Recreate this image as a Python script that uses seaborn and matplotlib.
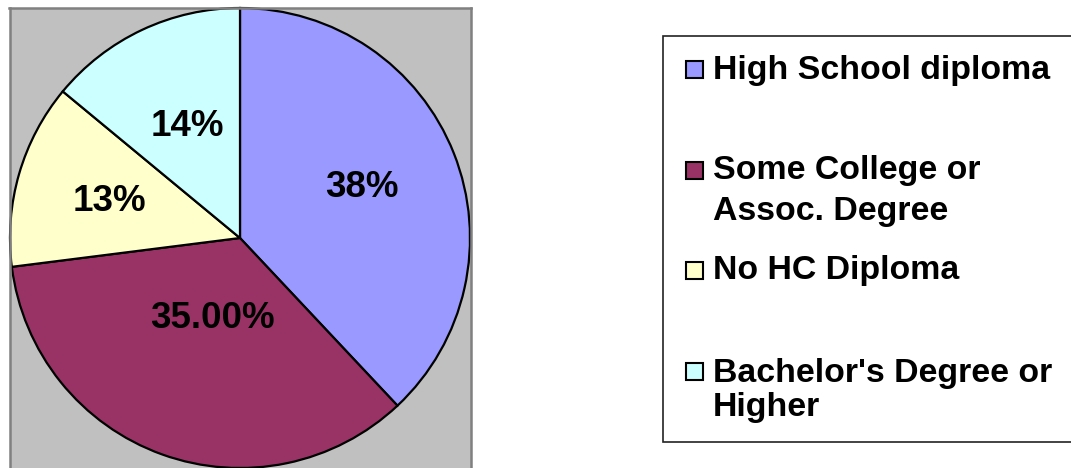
import matplotlib
matplotlib.use("Agg")
import matplotlib.pyplot as plt
from matplotlib.patches import Rectangle
import numpy as np
import seaborn as sns

# Education level breakdown
categories = ["High School diploma", "Some College or\nAssoc. Degree",
              "No HC Diploma", "Bachelor's Degree or\nHigher"]
shares = [38, 35, 13, 14]
label_formats = ["{:.0f}%", "{:.2f}%", "{:.0f}%", "{:.0f}%"]
colors = ["#9999FF", "#993366", "#FFFFCC", "#CCFFFF"]

sns.set_style("white")
plt.rcParams["font.family"] = ["Liberation Sans", "DejaVu Sans"]

W, H = 1071, 468
fig = plt.figure(figsize=(W / 100, H / 100), dpi=100)
fig.patch.set_facecolor("white")

# Pie panel (1 data unit = 1 pixel)
R = 230
left, right, top, bottom = 9.5, 470.5, 8, 470
ax = fig.add_axes([left / W, (H - bottom) / H, (right - left) / W, (bottom - top) / H])
ax.set_facecolor("#C0C0C0")
for s in ax.spines.values():
    s.set_color("#808080")
    s.set_linewidth(1.8)

wedges, _ = ax.pie(shares, colors=colors, startangle=90, counterclock=False,
                   radius=R, center=(0, 0), frame=True,
                   wedgeprops=dict(edgecolor="black", linewidth=1.6))
cx = 240 - left
cy = 238 - top
ax.set_xlim(-cx, (right - left) - cx)
ax.set_ylim(-((bottom - top) - cy), cy)
ax.set_aspect("auto")
ax.set_xticks([])
ax.set_yticks([])

# Percentage labels, placed along each wedge's bisector
label_size = 26.5
digit_half = 0.716 * label_size * 100 / 72 / 2
label_place = [(0.58, 2.5), (0.356, 0.0), (0.596, -1.0), (0.551, -0.5)]
for w, v, fmt, (frac, dang) in zip(wedges, shares, label_formats, label_place):
    ang = np.deg2rad((w.theta1 + w.theta2) / 2 + dang)
    x = frac * R * np.cos(ang)
    y = frac * R * np.sin(ang)
    ax.text(x, y - digit_half, fmt.format(v), ha="center", va="baseline",
            fontsize=label_size, fontweight="bold", color="black")

# Legend drawn in pixel coordinates
lax = fig.add_axes([0, 0, 1, 1])
lax.set_xlim(0, W)
lax.set_ylim(H, 0)
lax.axis("off")
lax.add_patch(Rectangle((663, 35.5), 420, 406, facecolor="white",
                        edgecolor="#222222", linewidth=1.2))

square_centers = [69, 170, 270, 371]
line_baselines = [[79], [179, 220], [279], [382, 416]]
legend_size = 24.4
for cat, col, sc, bls in zip(categories, colors, square_centers, line_baselines):
    lax.add_patch(Rectangle((686, sc - 8.5), 17, 17, facecolor=col,
                            edgecolor="black", linewidth=1.5))
    for line, bl in zip(cat.split("\n"), bls):
        lax.text(713, bl, line, ha="left", va="baseline", fontsize=legend_size,
                 fontweight="bold", color="black")

fig.savefig("out.png", dpi=100)
